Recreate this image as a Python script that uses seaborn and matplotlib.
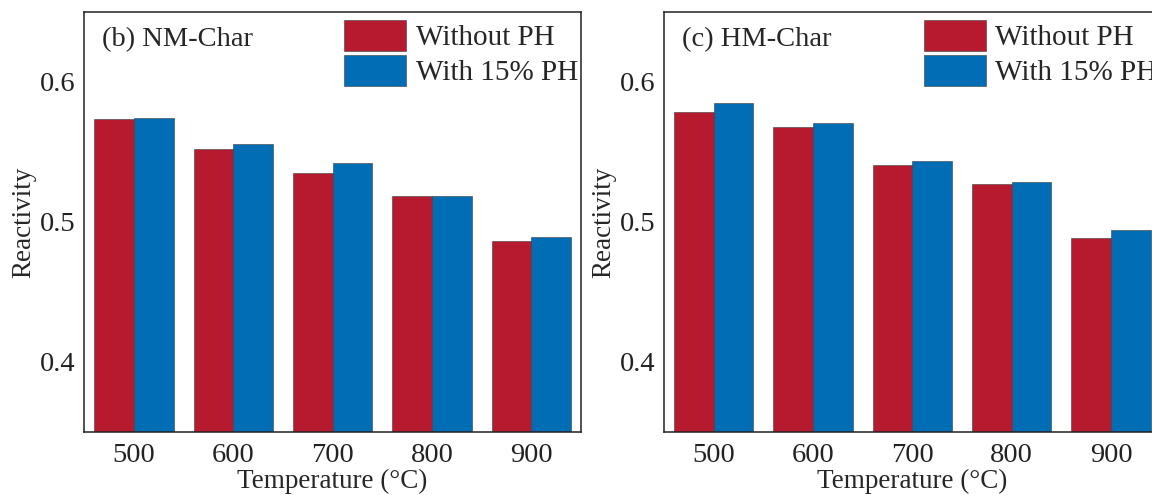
import numpy as np
import pandas as pd
import matplotlib
matplotlib.use("Agg")
import matplotlib.pyplot as plt
import seaborn as sns

# Reactivity of chars at each gasification temperature
temperatures = ["500", "600", "700", "800", "900"]
series_names = ["Without PH", "With 15% PH"]
nm_without = [0.5735, 0.5520, 0.5350, 0.5185, 0.4860]
nm_with = [0.5745, 0.5558, 0.5420, 0.5187, 0.4890]
hm_without = [0.5785, 0.5675, 0.5405, 0.5268, 0.4882]
hm_with = [0.5848, 0.5707, 0.5432, 0.5286, 0.4940]
panel_titles = ["(b) NM-Char", "(c) HM-Char"]

colors = ["#B51A2F", "#006DB4"]

sns.set_style("white")
plt.rcParams["font.family"] = ["Liberation Serif", "DejaVu Serif"]


def make_frame(without, with_ph):
    return pd.DataFrame({
        "Temperature": temperatures * 2,
        "Reactivity": list(without) + list(with_ph),
        "Series": [series_names[0]] * len(temperatures) + [series_names[1]] * len(temperatures),
    })


fig = plt.figure(figsize=(11.52, 4.95), dpi=100)
W, H = 1152, 495
ax_w, ax_h = 496.7 / W, 419.7 / H
bottom = (H - 431.7) / H
axes = [fig.add_axes([84.3 / W, bottom, ax_w, ax_h]),
        fig.add_axes([664.0 / W, bottom, ax_w, ax_h])]

datasets = [(nm_without, nm_with), (hm_without, hm_with)]

for ax, (wo, wi), title in zip(axes, datasets, panel_titles):
    df = make_frame(wo, wi)
    sns.barplot(data=df, x="Temperature", y="Reactivity", hue="Series",
                order=temperatures, hue_order=series_names, palette=colors,
                width=0.8, gap=0, saturation=1, errorbar=None,
                edgecolor="#3c3c3c", linewidth=0.4, ax=ax, legend=True)
    ax.set_xlim(-0.5, len(temperatures) - 0.5)
    ax.set_ylim(0.35, 0.65)
    ax.set_yticks([0.4, 0.5, 0.6])
    ax.set_yticks([0.45, 0.55], minor=True)
    ax.set_xticks(np.arange(len(temperatures)))
    ax.set_xticks(np.arange(len(temperatures) - 1) + 0.5, minor=True)
    ax.set_xticklabels(temperatures)
    ax.set_yticklabels(["0.4", "0.5", "0.6"])
    ax.tick_params(which="both", direction="in", colors="#222222")
    ax.tick_params(which="major", length=6, width=1.0, labelsize=20.5, pad=6)
    ax.tick_params(which="minor", length=3, width=1.0)
    ax.tick_params(axis="x", which="major", pad=8)
    for sp in ax.spines.values():
        sp.set_linewidth(1.1)
        sp.set_color("#222222")
        sp.set_visible(True)

    ax.set_xlabel("Temperature (°C)", fontsize=19.5, labelpad=1)
    ax.set_ylabel("Reactivity", fontsize=19.5)
    ax.yaxis.set_label_coords(-0.097, 0.5)

    ax.text(0.036, 0.935, title, transform=ax.transAxes, fontsize=20.5,
            ha="left", va="center")

    handles, labels = ax.get_legend_handles_labels()
    ax.legend(handles, labels, loc="upper left", bbox_to_anchor=(0.523, 0.981),
              frameon=False, fontsize=21, handlelength=2.12, handleheight=1.25,
              handletextpad=0.33, labelspacing=0.12, borderpad=0,
              borderaxespad=0)

fig.savefig("out.png", dpi=100)
